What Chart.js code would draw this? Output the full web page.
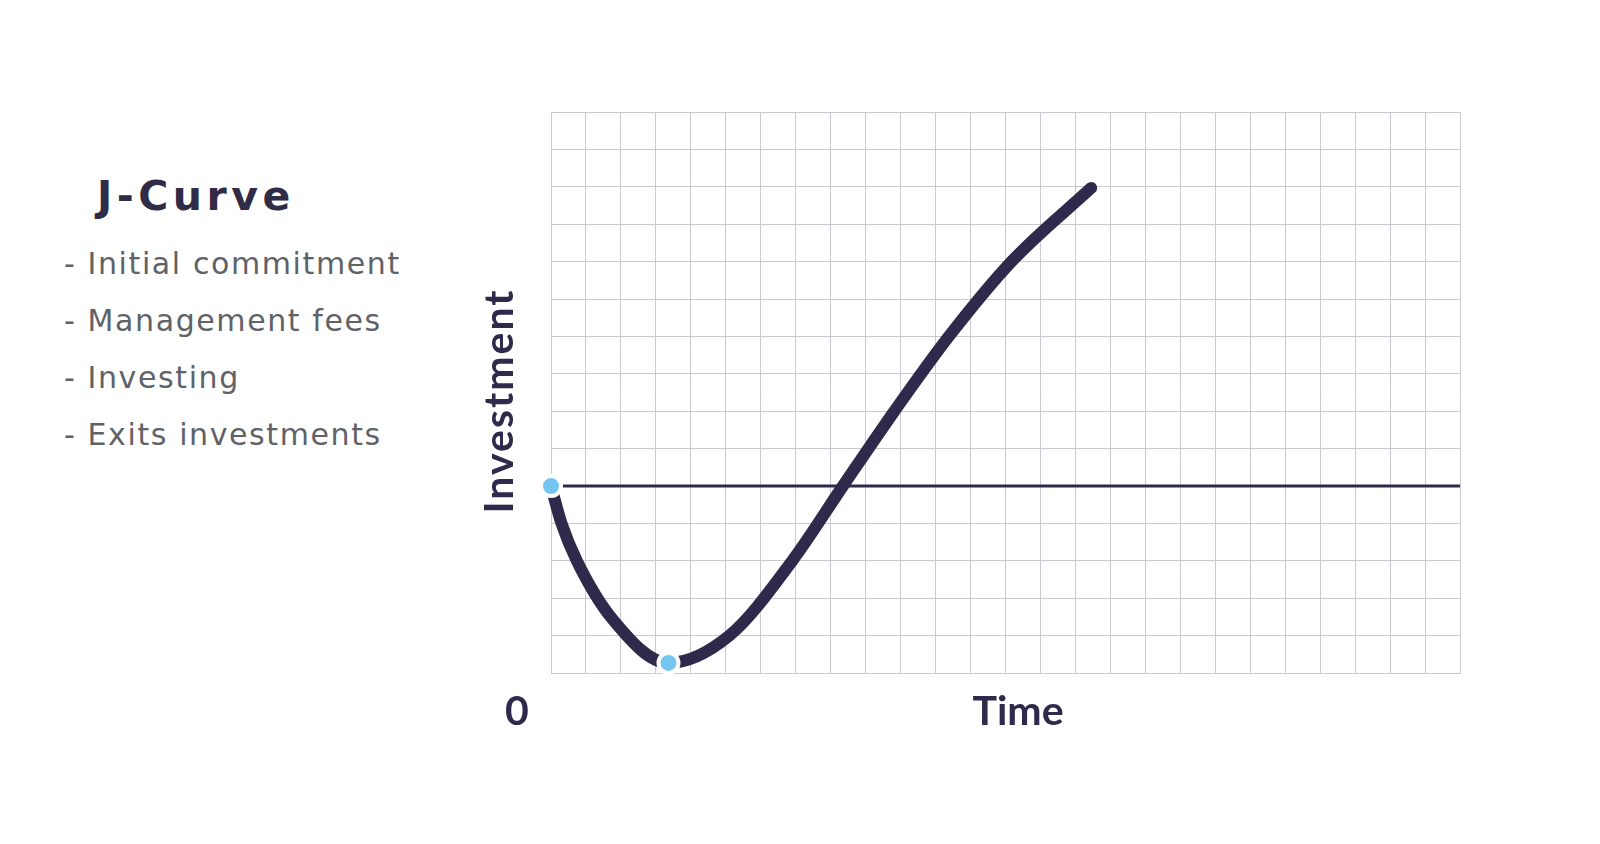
<!DOCTYPE html>
<html lang="en">
<head>
    <meta charset="UTF-8">
    <title>J-Curve</title>
    <style>
        body {
            margin: 0;
            background-color: #ffffff;
            font-family: "DejaVu Sans", "Noto Sans", sans-serif;
            width: 1600px;
            height: 844px;
            overflow: hidden;
            position: relative;
        }
        #chart-box {
            position: absolute;
            left: 0;
            top: 0;
            width: 1600px;
            height: 844px;
        }
        #notes {
            position: absolute;
            left: 64px;
            top: 166px;
        }
        #notes h1 {
            margin: 0 0 0 33px;
            font-size: 41px;
            font-weight: 700;
            color: #2f2c47;
            letter-spacing: 4.5px;
            line-height: 60px;
        }
        #notes ul {
            list-style: none;
            margin: 9px 0 0 0;
            padding: 0;
        }
        #notes li {
            font-size: 30px;
            font-weight: 400;
            color: #606268;
            letter-spacing: 1.6px;
            line-height: 57px;
        }
    </style>
    <script src="https://cdn.jsdelivr.net/npm/chart.js"></script>
</head>
<body>
    <div id="notes">
        <h1>J-Curve</h1>
        <ul id="note-list"></ul>
    </div>
    <div id="chart-box">
        <canvas id="jcurve" width="1600" height="844"></canvas>
    </div>

    <script>
        // data (grid units: 26 columns x 15 rows)
        const notes = ['- Initial commitment', '- Management fees', '- Investing', '- Exits investments'];
        const curveX = [0, 0.3, 0.74, 1.75, 3.36, 5.1, 6.9, 8.35, 9.82, 11.38, 13.17, 15.45];
        const curveY = [5, 4.0, 3.0, 1.45, 0.27, 1, 3, 5, 7, 9, 11, 12.97];
        const markerX = [0, 3.36];
        const markerY = [5, 0.27];
        const baseX = [0, 26];
        const baseY = [5, 5];
        const xTitle = 'Time';
        const yTitle = 'Investment';
        const originLabel = '0';

        const navy = '#2e2a4c';
        const gridGrey = '#c9c9cf';

        document.getElementById('note-list').innerHTML = notes.map(n => '<li>' + n + '</li>').join('');

        function toPoints(xs, ys) {
            return xs.map((x, i) => ({ x: x, y: ys[i] }));
        }

        // axis words sit outside the grid, placed from the chart area
        const axisWords = {
            id: 'axisWords',
            afterDraw(chart) {
                const { ctx, chartArea } = chart;
                ctx.save();
                ctx.fillStyle = navy;
                ctx.font = '700 41px Lato, "Noto Sans", sans-serif';
                ctx.textAlign = 'center';
                ctx.textBaseline = 'middle';
                ctx.fillText(originLabel, chartArea.left - 34, chartArea.bottom + 39);
                ctx.fillText(xTitle, chartArea.left + 467, chartArea.bottom + 39);
                ctx.translate(chartArea.left - 51, chartArea.top + 289);
                ctx.rotate(-Math.PI / 2);
                ctx.letterSpacing = '2px';
                ctx.fillText(yTitle, 0, 0);
                ctx.restore();
            }
        };

        new Chart(document.getElementById('jcurve'), {
            type: 'line',
            data: {
                datasets: [
                    {
                        label: 'markers',
                        data: toPoints(markerX, markerY),
                        showLine: false,
                        pointRadius: 10,
                        pointBackgroundColor: '#74c5ef',
                        pointBorderColor: '#ffffff',
                        pointBorderWidth: 4,
                        order: 0,
                        clip: false
                    },
                    {
                        label: 'J-Curve',
                        data: toPoints(curveX, curveY),
                        borderColor: navy,
                        borderWidth: 12,
                        borderCapStyle: 'round',
                        borderJoinStyle: 'round',
                        cubicInterpolationMode: 'monotone',
                        pointRadius: 0,
                        fill: false,
                        order: 1,
                        clip: false
                    },
                    {
                        label: 'baseline',
                        data: toPoints(baseX, baseY),
                        borderColor: navy,
                        borderWidth: 3,
                        pointRadius: 0,
                        fill: false,
                        order: 2
                    }
                ]
            },
            options: {
                responsive: false,
                animation: false,
                layout: {
                    padding: { left: 551, top: 112, right: 140, bottom: 171 }
                },
                plugins: {
                    legend: { display: false },
                    tooltip: { enabled: false }
                },
                scales: {
                    x: {
                        type: 'linear',
                        min: 0,
                        max: 26,
                        ticks: { display: false, stepSize: 1 },
                        grid: { color: gridGrey, lineWidth: 1, drawTicks: false },
                        border: { color: gridGrey }
                    },
                    y: {
                        type: 'linear',
                        min: 0,
                        max: 15,
                        ticks: { display: false, stepSize: 1 },
                        grid: { color: gridGrey, lineWidth: 1, drawTicks: false },
                        border: { color: gridGrey }
                    }
                }
            },
            plugins: [axisWords]
        });
    </script>
</body>
</html>
